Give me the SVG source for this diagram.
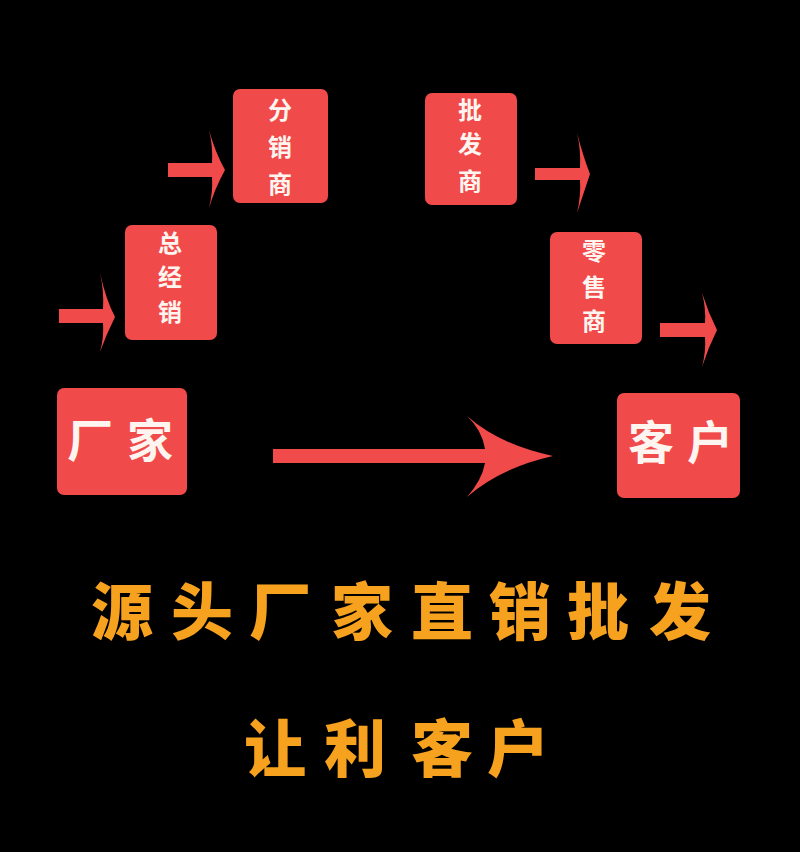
<svg xmlns="http://www.w3.org/2000/svg" width="800" height="852" viewBox="0 0 800 852">
<style>
.box{fill:#F04A4A}
.arr{fill:#F04A4A}
.bt{fill:#FFF5F0;font-family:"Noto Sans CJK SC","Noto Sans CJK TC",sans-serif;font-weight:bold;text-anchor:middle}
.s{font-size:24px}
.l{font-size:46px}
.o{fill:#F7A21E;font-family:"Noto Sans CJK SC","Noto Sans CJK TC",sans-serif;font-weight:900;text-anchor:middle;font-size:62px}
</style>
<rect width="800" height="852" fill="#000"/>
<g id="connectors">
<path class="arr" d="M59,309 H103 Q104,290 100,273 Q106,300 115,317 Q106,335 100,352 Q104,338 103,323 H59 Z"/>
<path class="arr" d="M168,163 H212 Q213,146 209,130 Q215,152 225,170 Q215,188 209,208 Q213,192 212,177 H168 Z"/>
<path class="arr" d="M535,168 H580 Q581,150 577,133 Q583,156 590,174 Q583,195 577,213 Q581,196 580,180 H535 Z"/>
<path class="arr" d="M660,323 H705 Q706,308 702,293 Q708,312 717,330 Q708,348 702,367 Q706,352 705,337 H660 Z"/>
<path class="arr" d="M273,449 H485 Q482,430 467,416 Q500,445 553,456 Q500,468 467,497 Q482,480 485,463 H273 Z"/>
</g>
<g id="zongjingxiao">
<rect class="box" x="125" y="225" width="92" height="115" rx="7"/>
<text class="bt s" x="170" y="252">总</text>
<text class="bt s" x="170" y="286">经</text>
<text class="bt s" x="170" y="321">销</text>
</g>
<g id="fenxiaoshang">
<rect class="box" x="233" y="89" width="95" height="114" rx="7"/>
<text class="bt s" x="280" y="119">分</text>
<text class="bt s" x="280" y="156">销</text>
<text class="bt s" x="280" y="193">商</text>
</g>
<g id="pifashang">
<rect class="box" x="425" y="93" width="92" height="112" rx="7"/>
<text class="bt s" x="470" y="119">批</text>
<text class="bt s" x="470" y="153">发</text>
<text class="bt s" x="470" y="190">商</text>
</g>
<g id="lingshoushang">
<rect class="box" x="550" y="232" width="92" height="112" rx="7"/>
<text class="bt s" x="594" y="260">零</text>
<text class="bt s" x="594" y="296">售</text>
<text class="bt s" x="594" y="330">商</text>
</g>
<g id="changjia">
<rect class="box" x="57" y="388" width="130" height="107" rx="7"/>
<text class="bt l" x="90" y="457">厂</text>
<text class="bt l" x="150" y="457">家</text>
</g>
<g id="kehu">
<rect class="box" x="617" y="393" width="123" height="105" rx="7"/>
<text class="bt l" x="651" y="459">客</text>
<text class="bt l" x="710" y="459">户</text>
</g>
<g id="slogan">
<text class="o" x="122 202 280 362 442 520 598 680" y="635">源头厂家直销批发</text>
<text class="o" x="275 355 442 518" y="772">让利客户</text>
</g>
</svg>
